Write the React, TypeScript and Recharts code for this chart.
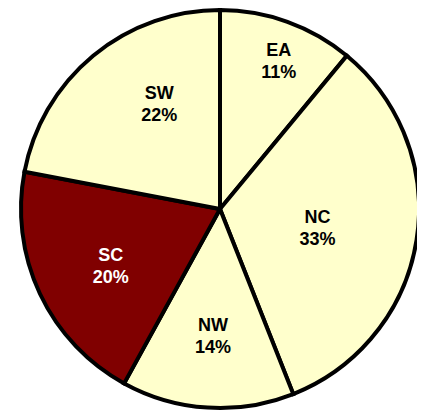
import { PieChart, Pie, Cell } from 'recharts'

const regions = ['EA', 'NC', 'NW', 'SC', 'SW']
const shares = [11, 33, 14, 20, 22]
const highlighted = ['SC']

const data = regions.map((name, i) => ({ name, value: shares[i] }))

// hand-tuned label placement: radius fraction and angle nudge per slice
const LABEL_PLACE: Record<string, { rf: number; da: number }> = {
  EA: { rf: 0.8, da: -1.9 },
  NC: { rf: 0.5, da: -2.3 },
  NW: { rf: 0.64, da: 0.5 },
  SC: { rf: 0.62, da: 2.4 },
  SW: { rf: 0.61, da: -9.6 },
}

const RAD = Math.PI / 180

const renderLabel = (props: any) => {
  const { cx, cy, midAngle, outerRadius, name, percent } = props
  const p = LABEL_PLACE[name] || { rf: 0.6, da: 0 }
  const a = midAngle + p.da
  const r = outerRadius * p.rf
  const x = cx + Math.cos(-a * RAD) * r
  const y = cy + Math.sin(-a * RAD) * r
  const fill = highlighted.includes(name) ? '#FFFFFF' : '#000000'
  return (
    <text
      x={x}
      y={y}
      textAnchor="middle"
      fill={fill}
      fontFamily="'Liberation Sans', Arial, sans-serif"
      fontWeight="bold"
      fontSize={18}
    >
      <tspan x={x} y={y - 11} dominantBaseline="central">{name}</tspan>
      <tspan x={x} y={y + 11} dominantBaseline="central">{`${Math.round(percent * 100)}%`}</tspan>
    </text>
  )
}

export default function App() {
  return (
    <PieChart width={417} height={403} margin={{ top: 0, right: 0, bottom: 0, left: 0 }}>
      <Pie
        data={data}
        dataKey="value"
        nameKey="name"
        cx={212}
        cy={201}
        outerRadius={199}
        startAngle={90}
        endAngle={-270}
        stroke="#000000"
        strokeWidth={4}
        labelLine={false}
        label={renderLabel}
        isAnimationActive={false}
      >
        {data.map((d, i) => (
          <Cell key={`cell-${i}`} fill={highlighted.includes(d.name) ? '#800000' : '#FFFFCC'} />
        ))}
      </Pie>
    </PieChart>
  )
}
